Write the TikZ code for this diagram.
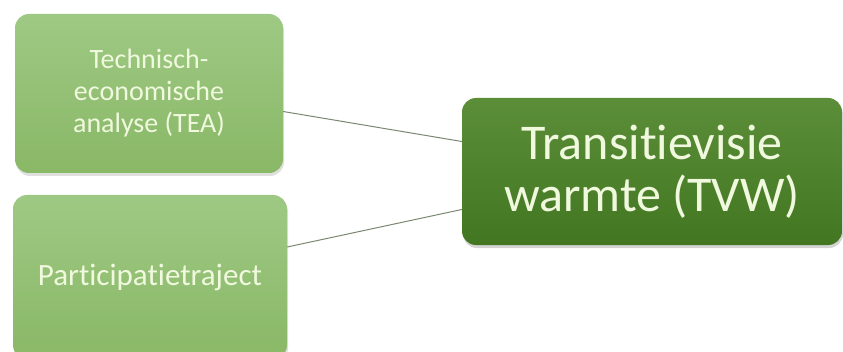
\documentclass[tikz,border=0pt]{standalone}
\usepackage{fontspec}
\setmainfont{Carlito}[Ligatures=NoCommon]
\usetikzlibrary{shadows}

\definecolor{leafTop}{RGB}{158,201,132}
\definecolor{leafBot}{RGB}{137,184,102}
\definecolor{leafText}{RGB}{240,248,222}
\definecolor{darkTop}{RGB}{92,142,58}
\definecolor{darkBot}{RGB}{66,118,32}
\definecolor{linkGray}{RGB}{122,136,114}

\begin{document}
\begin{tikzpicture}[x=1pt,y=1pt,
		smallbox/.style={rounded corners=14pt, top color=leafTop, bottom color=leafBot, text=leafText, align=center,
			drop shadow={opacity=0.25, shadow xshift=1pt, shadow yshift=-3pt}},
		bigbox/.style={rounded corners=14pt, top color=darkTop, bottom color=darkBot, text=leafText, align=center,
			drop shadow={opacity=0.35, shadow xshift=1pt, shadow yshift=-3pt}},
		link/.style={draw=linkGray, line width=1pt}]
		\clip (0,0) rectangle (843,351);
		
		% left column
		\node[smallbox, minimum width=268pt, minimum height=159pt, font=\fontsize{28}{32}\selectfont] (tea) at (149,257.5) {Technisch-\\economische\\analyse (TEA)};
		\node[smallbox, minimum width=274pt, minimum height=164pt, font=\fontsize{31}{36}\selectfont] (part) at (150,74) {Participatietraject};
		
		% right
		\node[bigbox, minimum width=380pt, minimum height=147pt, font=\fontsize{50}{52}\selectfont] (tvw) at (652,179.5) {Transitievisie\\warmte (TVW)};
		
		\draw[link] ([yshift=-18pt]tea.east) -- ([yshift=30pt]tvw.west);
		\draw[link] ([yshift=30pt]part.east) -- ([yshift=-38pt]tvw.west);
		
\end{tikzpicture}
\end{document}
